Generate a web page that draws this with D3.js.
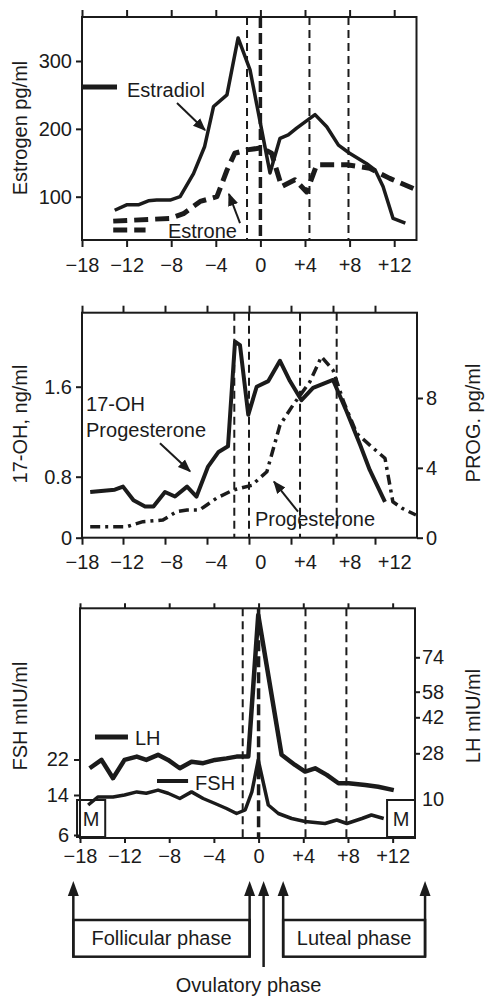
<!DOCTYPE html>
<html>
<head>
<meta charset="utf-8">
<script src="https://cdn.jsdelivr.net/npm/d3@7"></script>
<style>
  body { margin: 0; background: #fff; }
  svg { display: block; font-family: "Liberation Sans", Arial, sans-serif; }
</style>
</head>
<body>
<div id="chart"></div>
<script>
// day of cycle (0 = LH peak)
const dayTicks = [-18, -12, -8, -4, 0, 4, 8, 12];

// top panel: estrogens, pg/ml  [day, value]
const estradiol = [[-13.6, 80], [-12, 88], [-10.95, 88], [-10.05, 94], [-9.3, 95], [-8.1, 95], [-7.2, 100],
  [-6.0, 134], [-5.0, 174], [-4.2, 233], [-3.0, 250], [-2.0, 334], [-0.93, 287], [0.86, 135], [1.76, 186],
  [2.5, 191], [3.25, 201], [4.9, 221], [5.95, 203], [7.0, 176], [8.0, 164], [9.5, 149], [10.3, 139],
  [11.0, 115], [11.9, 68], [13.0, 61]];
const estrone = [[-13.8, 64], [-8.1, 68], [-6.9, 75], [-5.4, 93], [-3.9, 100], [-3.0, 139], [-2.3, 164],
  [-1.2, 169], [0.1, 172], [1.0, 164], [1.9, 115], [3.1, 125], [4.15, 107], [5.05, 147], [7.75, 147],
  [9.8, 142], [11.6, 127], [14, 110]];
const estroneLow = [[-13.8, 51], [-10.3, 51]];
const estrogenTicks = [100, 200, 300];
const estrogenMarkers = [-1.2, 0, 4.4, 7.9];

// middle panel: 17-OH progesterone ng/ml, progesterone pg/ml
const ohProgesterone = [[-16.8, 0.60], [-13.2, 0.63], [-12, 0.67], [-11.0, 0.49], [-9.9, 0.41], [-9.1, 0.41],
  [-8.0, 0.60], [-7.05, 0.54], [-5.9, 0.67], [-5.0, 0.54], [-3.9, 0.89], [-2.9, 1.02], [-2.0, 1.07],
  [-1.33, 2.0], [-0.86, 1.97], [-0.07, 1.35], [0.73, 1.6], [1.84, 1.65], [2.95, 1.83], [3.9, 1.65],
  [5.0, 1.48], [6.1, 1.59], [8.0, 1.66], [9.3, 1.38], [10.6, 1.08], [11.5, 0.86], [12.95, 0.47]];
const progesterone = [[-16.8, 0.63], [-11.65, 0.63], [-10.1, 0.92], [-8.2, 1.01], [-6.9, 1.49], [-5.9, 1.59],
  [-4.7, 1.59], [-3.1, 2.26], [-1.5, 2.73], [0.26, 3.0], [1.7, 3.78], [2.95, 6.45], [4.2, 7.6], [5.8, 8.93],
  [6.9, 10.37], [8.0, 9.6], [9.0, 7.8], [10.25, 5.98], [11.5, 5.3], [12.95, 4.55], [13.7, 2.06],
  [14.6, 1.68], [15.9, 1.3]];
const ohTicks = [0, 0.8, 1.6];
const progTicks = [0, 4, 8];
const progMarkers = [-1.4, 0, 4.86, 8.35];

// bottom panel: gonadotropins mIU/ml
const lh = [[-16.7, 22.1], [-15.1, 25.4], [-13.55, 18.2], [-12, 25.4], [-10.9, 26.7], [-10.05, 25.4],
  [-9.0, 27.4], [-8.1, 25.4], [-7.05, 22.1], [-6.0, 24.7], [-4.96, 24.1], [-3.9, 25.4], [-2.87, 26.0],
  [-1.97, 26.7], [-0.92, 26.7], [-0.03, 93.7], [2.06, 27.4], [3.26, 23.4], [4.16, 20.8], [5.06, 22.1],
  [6.1, 19.5], [7.15, 16.2], [8.05, 16.2], [9.54, 15.5], [10.7, 14.8], [12.1, 13.5]];
const fsh = [[-16.9, 12], [-15.6, 13.6], [-13.55, 13.6], [-12, 14], [-10.9, 14.7], [-10.05, 14.4], [-9.0, 15.1],
  [-8.1, 14.4], [-7.05, 13.3], [-6.0, 14.7], [-4.96, 13.3], [-3.9, 12.3], [-2.87, 11.3], [-1.97, 10.3],
  [-1.2, 11], [-0.6, 14.7], [-0.03, 21.9], [0.87, 12], [1.77, 10.3], [2.96, 9.3], [4.16, 8.7], [5.95, 8.3],
  [7.0, 9], [7.9, 8.3], [9.25, 9.3], [10.1, 10], [11.2, 9.3]];
const fshTicks = [6, 14, 22];
const lhTicks = [10, 28, 42, 58, 74];
const gonadMarkers = [-1.42, 0, 4.2, 7.86];
const mensesDays = [[-18.4, -14.6], [11.5, 14]];

// phases under the chart
const phases = [{ name: 'Follicular phase', from: -18.9, to: -0.8 }, { name: 'Luteal phase', from: 2.2, to: 14.9 }];
const ovulationDay = 0.45;

const W = 485, H = 996;
const ink = '#1b1b1b';
const fmtDay = d => d > 0 ? `+${d}` : d < 0 ? `\u2212${-d}` : '0';

const svg = d3.select('#chart').append('svg').attr('width', W).attr('height', H);

svg.append('defs').append('marker')
  .attr('id', 'head').attr('viewBox', '0 0 10 10').attr('refX', 9).attr('refY', 5)
  .attr('markerWidth', 13).attr('markerHeight', 13).attr('markerUnits', 'userSpaceOnUse')
  .attr('orient', 'auto')
  .append('path').attr('d', 'M0,1L10,5L0,9Z').attr('fill', ink);

// scales (the original figure has uneven axes, so several are piecewise)
const xTop = d3.scaleLinear().domain([-18, -12, 14]).range([82, 126.6, 416.5]);
const yEstrogen = d3.scaleLinear().domain([100, 300]).range([196.7, 61]);
const xMid = d3.scaleLinear().domain([-18, -12, 16]).range([82, 123, 417]);
const yOH = d3.scaleLinear().domain([0, 0.8, 1.6]).range([537.7, 476.7, 386.7]);
const yProg = d3.scaleLinear().domain([0, 8]).range([537.7, 398]);
const xBot = d3.scaleLinear().domain([-18, -12, 14]).range([80, 124.5, 415]);
const yFSH = d3.scaleLinear().domain([6, 14, 22]).range([835, 795, 759.5]);
const yLH = d3.scaleLinear().domain([10, 28, 42, 58, 74]).range([799, 753.3, 717.3, 691.7, 657.3]);

function styleAxis(g) {
  g.attr('font-size', 20).attr('font-family', null);
  g.select('.domain').remove();
  g.selectAll('line').attr('stroke', ink).attr('stroke-width', 2);
  g.selectAll('text').attr('fill', ink);
}

function frame(x, y0, y1) {
  const r = x.range();
  svg.append('rect')
    .attr('x', r[0]).attr('y', y0)
    .attr('width', r[r.length - 1] - r[0]).attr('height', y1 - y0)
    .attr('fill', 'none').attr('stroke', ink).attr('stroke-width', 2);
}

function xAxes(xTicks, xLabels, y0, y1, tick, pad) {
  svg.append('g').attr('transform', `translate(0,${y0})`)
    .call(d3.axisTop(xTicks).tickValues(dayTicks).tickSize(tick).tickFormat(''))
    .call(styleAxis);
  svg.append('g').attr('transform', `translate(0,${y1})`)
    .call(d3.axisBottom(xTicks).tickValues(dayTicks).tickSize(tick).tickFormat(''))
    .call(styleAxis);
  svg.append('g').attr('transform', `translate(0,${y1})`)
    .call(d3.axisBottom(xLabels).tickValues(dayTicks).tickSize(0).tickPadding(tick + pad).tickFormat(fmtDay))
    .call(styleAxis);
}

function yAxis(axisFn, scale, xPos, ticks, fmt, tick, pad) {
  return svg.append('g').attr('transform', `translate(${xPos},0)`)
    .call(axisFn(scale).tickValues(ticks).tickSize(tick).tickPadding(pad).tickFormat(fmt))
    .call(styleAxis);
}

function series(x, y, data, width, dash) {
  svg.append('path').datum(data)
    .attr('fill', 'none').attr('stroke', ink).attr('stroke-width', width)
    .attr('stroke-linejoin', 'round').attr('stroke-dasharray', dash || null)
    .attr('d', d3.line().x(d => x(d[0])).y(d => y(d[1])));
}

function markers(x, y0, y1, days, thickDay) {
  svg.append('g').selectAll('line').data(days).enter().append('line')
    .attr('x1', d => x(d)).attr('x2', d => x(d))
    .attr('y1', y0).attr('y2', y1)
    .attr('stroke', ink)
    .attr('stroke-width', d => d === thickDay ? 3.5 : 2)
    .attr('stroke-dasharray', d => d === thickDay ? '11,5' : '8,5');
}

function label(x, y, pt, text, anchor) {
  svg.append('text').attr('x', x(pt[0])).attr('y', y(pt[1]))
    .attr('font-size', 20).attr('fill', ink).attr('text-anchor', anchor || 'start').text(text);
}

function arrow(x, y, from, to) {
  svg.append('line')
    .attr('x1', x(from[0])).attr('y1', y(from[1])).attr('x2', x(to[0])).attr('y2', y(to[1]))
    .attr('stroke', ink).attr('stroke-width', 2).attr('marker-end', 'url(#head)');
}

function keyLine(x, y, d0, d1, v, width) {
  svg.append('line').attr('x1', x(d0)).attr('x2', x(d1)).attr('y1', y(v)).attr('y2', y(v))
    .attr('stroke', ink).attr('stroke-width', width);
}

function yTitle(text, xPos, yPos) {
  svg.append('text').attr('transform', `translate(${xPos},${yPos}) rotate(-90)`)
    .attr('text-anchor', 'middle').attr('font-size', 20).attr('fill', ink).text(text);
}

// ---- top panel: estrogens
markers(xTop, 17, 240, estrogenMarkers, 0);
series(xTop, yEstrogen, estrone, 5, '14,7');
series(xTop, yEstrogen, estroneLow, 5, '14,7');
series(xTop, yEstrogen, estradiol, 3.5);
frame(xTop, 17, 240);
xAxes(xTop, xTop, 17, 240, 7, 11);
yAxis(d3.axisLeft, yEstrogen, 82, estrogenTicks, d3.format('d'), 6, 4);
keyLine(xTop, yEstrogen, -18, -13.29, 261.7, 5);
label(xTop, yEstrogen, [-11.96, 247], 'Estradiol');
arrow(xTop, yEstrogen, [-7.48, 238], [-4.97, 198.3]);
label(xTop, yEstrogen, [-8.29, 39.1], 'Estrone');
arrow(xTop, yEstrogen, [-1.83, 61.2], [-2.82, 104]);
yTitle('Estrogen pg/ml', 27, 128);

// ---- middle panel: progestins
markers(xMid, 312.7, 537.7, progMarkers, null);
series(xMid, yProg, progesterone, 3.5, '10,5,3,5');
series(xMid, yOH, ohProgesterone, 4);
frame(xMid, 312.7, 537.7);
xAxes(xMid, xTop, 312.7, 537.7, 7, 10);
yAxis(d3.axisLeft, yOH, 82, ohTicks, d => d === 0 ? '0' : d3.format('.1f')(d), 6, 4);
yAxis(d3.axisRight, yProg, 417, progTicks, d3.format('d'), 6, 3);
label(xMid, yOH, [-17.41, 1.387], '17-OH');
label(xMid, yOH, [-17.41, 1.156], 'Progesterone');
arrow(xMid, yOH, [-8.48, 1.097], [-5.62, 0.848]);
label(xMid, yOH, [0.57, 0.153], 'Progesterone');
arrow(xMid, yOH, [4.67, 0.341], [2.38, 0.734]);
yTitle('17-OH, ng/ml', 27, 424);
yTitle('PROG. pg/ml', 480, 423);

// ---- bottom panel: gonadotropins
markers(xBot, 608.3, 838, gonadMarkers, 0);
svg.append('g').selectAll('g').data(mensesDays).enter().append('g').each(function (d) {
  const g = d3.select(this);
  g.append('rect')
    .attr('x', xBot(d[0])).attr('y', yFSH(13))
    .attr('width', xBot(d[1]) - xBot(d[0])).attr('height', yFSH(5.6) - yFSH(13))
    .attr('fill', 'none').attr('stroke', ink).attr('stroke-width', 2);
  g.append('text')
    .attr('x', (xBot(d[0]) + xBot(d[1])) / 2).attr('y', yFSH(5.6) - 11)
    .attr('text-anchor', 'middle').attr('font-size', 20).attr('fill', ink).text('M');
});
series(xBot, yLH, lh, 4.5);
series(xBot, yFSH, fsh, 3.5);
frame(xBot, 608.3, 838);
xAxes(xBot, xBot, 608.3, 838, 5, 6);
yAxis(d3.axisLeft, yFSH, 80, fshTicks, d3.format('d'), 6, 5);
yAxis(d3.axisRight, yLH, 415, lhTicks, d3.format('d'), 5, 2)
  .selectAll('.tick').filter(d => d === 10).select('line').remove();
keyLine(xBot, yFSH, -15.98, -11.69, 27.07, 5);
label(xBot, yFSH, [-11.06, 25.27], 'LH');
keyLine(xBot, yFSH, -9.09, -6.31, 17.15, 4);
label(xBot, yFSH, [-5.68, 15.13], 'FSH');
yTitle('FSH mIU/ml', 27, 716);
yTitle('LH mIU/ml', 480, 716);

// ---- phases
const headTop = 881, headBase = 896, boxTop = 920, boxBottom = 956.7;

function upArrow(xp, yEnd) {
  svg.append('line').attr('x1', xp).attr('x2', xp).attr('y1', headBase - 1).attr('y2', yEnd)
    .attr('stroke', ink).attr('stroke-width', 2.5);
  svg.append('path')
    .attr('d', `M${xp},${headTop}L${xp - 5.5},${headBase}L${xp + 5.5},${headBase}Z`)
    .attr('fill', ink);
}

phases.forEach(p => {
  const x0 = xBot(p.from), x1 = xBot(p.to);
  upArrow(x0, boxBottom);
  upArrow(x1, boxBottom);
  svg.append('rect').attr('x', x0).attr('y', boxTop).attr('width', x1 - x0).attr('height', boxBottom - boxTop)
    .attr('fill', 'none').attr('stroke', ink).attr('stroke-width', 2.5);
  svg.append('text').attr('x', (x0 + x1) / 2).attr('y', 945)
    .attr('text-anchor', 'middle').attr('font-size', 20).attr('fill', ink).text(p.name);
});

upArrow(xBot(ovulationDay), 967);
svg.append('text').attr('x', xBot(ovulationDay) - 15).attr('y', 992)
  .attr('text-anchor', 'middle').attr('font-size', 20).attr('fill', ink).text('Ovulatory phase');
</script>
</body>
</html>
